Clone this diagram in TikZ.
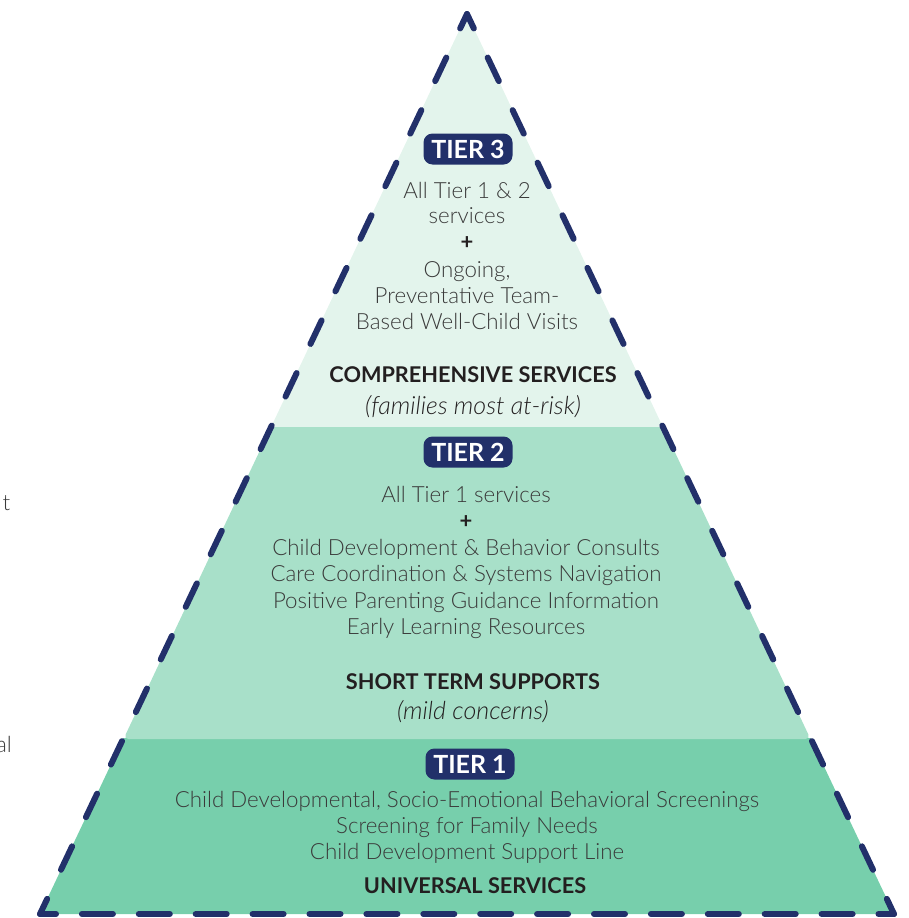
\documentclass[tikz,border=0pt]{standalone}
\usepackage{fontspec}
\setmainfont{Lato}[UprightFont={Lato Light},ItalicFont={Lato Light Italic},BoldFont={Lato Bold}]
\usetikzlibrary{positioning}
\definecolor{navy}{HTML}{22306A}
\definecolor{tierthree}{HTML}{E3F4EC}
\definecolor{tiertwo}{HTML}{A8E0C9}
\definecolor{tierone}{HTML}{77CFAC}
\definecolor{bodygray}{HTML}{3A3A3A}
\definecolor{headblack}{HTML}{231F20}
\tikzset{T badge/.style={fill=navy,text=white,rounded corners=9pt,minimum width=89pt,minimum height=31pt,inner sep=0pt,font=\fontsize{25}{25}\selectfont\bfseries},
	T line/.style={anchor=base,inner sep=0pt,text=bodygray,font=\fontsize{22.3}{22}\selectfont},
	T head/.style={anchor=base,inner sep=0pt,text=headblack,font=\fontsize{21.7}{22}\selectfont\bfseries},
	T note/.style={anchor=base,inner sep=0pt,text=headblack,font=\fontsize{25}{25}\selectfont\itshape},
	T plus/.style={anchor=base,inner sep=0pt,text=headblack,font=\fontsize{22}{22}\selectfont\bfseries},
	side dash/.style={draw=navy,line width=6pt,line cap=round,line join=round,dash pattern=on 26pt off 32.2pt,dash phase=10pt},
	base dash/.style={draw=navy,line width=6pt,line cap=round,dash pattern=on 31pt off 25.9pt,dash phase=15pt},}

\begin{document}
\begin{tikzpicture}[x=1pt,y=-1pt]
			\useasboundingbox (0,0) rectangle (908,918);
			\coordinate (A) at (467,14);
			\coordinate (L) at (40,914);
			\coordinate (R) at (894,914);

			\begin{scope}
				\clip (A) -- (L) -- (R) -- cycle;
				\fill[tierthree] (0,0) rectangle (908,428);
				\fill[tierone] (0,738) rectangle (908,930);
			\end{scope}
			\fill[tiertwo, rounded corners=5pt] (271,427) -- (663,427) -- (810.5,739) -- (123.5,739) -- cycle;

			\path[side dash] (A) -- (L);
			\path[side dash] (A) -- (R);
			\path[base dash] (L) -- (R);

			\node[T badge] (t3) at (468,149) {TIER 3};
			\node[T line] (t3a) at (467,198) {All Tier 1 \& 2};
			\node[T line] (t3b) at (467,223) {services};
			\node[T plus] (t3p) at (467,249) {+};
			\node[T line] (t3c) at (467,277) {Ongoing,};
			\node[T line] (t3d) at (467,303) {Preventative Team-};
			\node[T line] (t3e) at (467,329) {Based Well-Child Visits};
			\node[T head] (t3h) at (473,382) {COMPREHENSIVE SERVICES};
			\node[T note] (t3n) at (473,414) {(families most at-risk)};

			\node[T badge] (t2) at (468,452) {TIER 2};
			\node[T line] (t2a) at (466,502) {All Tier 1 services};
			\node[T plus] (t2p) at (466,528) {+};
			\node[T line] (t2b) at (466,555) {Child Development \& Behavior Consults};
			\node[T line] (t2c) at (466,581) {Care Coordination \& Systems Navigation};
			\node[T line] (t2d) at (466,608) {Positive Parenting Guidance Information};
			\node[T line] (t2e) at (466,634) {Early Learning Resources};
			\node[T head] (t2h) at (473,689) {SHORT TERM SUPPORTS};
			\node[T note] (t2n) at (473,719) {(mild concerns)};

			\node[T badge] (t1) at (470,764) {TIER 1};
			\node[T line] (t1a) at (467,807) {Child Developmental, Socio-Emotional Behavioral Screenings};
			\node[T line] (t1b) at (467,833) {Screening for Family Needs};
			\node[T line] (t1c) at (467,859) {Child Development Support Line};
			\node[T head] (t1h) at (475,893) {UNIVERSAL SERVICES};

			\node[T line, anchor=base east] (edget) at (10.5,510) {t};
			\node[T line, anchor=base east] (edgeal) at (12,752) {al};
		\end{tikzpicture}
\end{document}
